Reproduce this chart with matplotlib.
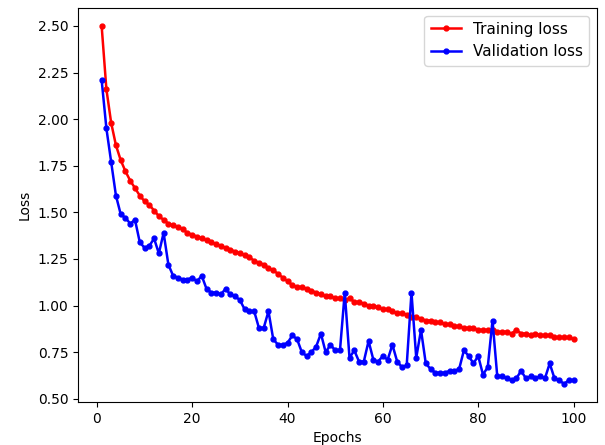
import matplotlib.pyplot as plt

# loss values per epoch
epochs = list(range(1, 101))

train_loss = [
    2.50, 2.16, 1.98, 1.86, 1.78, 1.72, 1.67, 1.63, 1.59, 1.56,
    1.54, 1.51, 1.48, 1.46, 1.44, 1.43, 1.42, 1.41, 1.39, 1.38,
    1.37, 1.36, 1.35, 1.34, 1.33, 1.32, 1.31, 1.30, 1.29, 1.28,
    1.27, 1.26, 1.24, 1.23, 1.22, 1.20, 1.19, 1.17, 1.15, 1.13,
    1.11, 1.10, 1.10, 1.09, 1.08, 1.07, 1.06, 1.05, 1.05, 1.04,
    1.04, 1.03, 1.04, 1.02, 1.02, 1.01, 1.00, 1.00, 0.99, 0.98,
    0.98, 0.97, 0.96, 0.96, 0.95, 0.94, 0.94, 0.93, 0.92, 0.92,
    0.91, 0.91, 0.90, 0.90, 0.89, 0.89, 0.88, 0.88, 0.88, 0.87,
    0.87, 0.87, 0.87, 0.86, 0.86, 0.86, 0.85, 0.87, 0.85, 0.85,
    0.84, 0.85, 0.84, 0.84, 0.84, 0.83, 0.83, 0.83, 0.83, 0.82,
]

val_loss = [
    2.21, 1.95, 1.77, 1.59, 1.49, 1.47, 1.44, 1.46, 1.34, 1.31,
    1.32, 1.36, 1.28, 1.39, 1.22, 1.16, 1.15, 1.14, 1.14, 1.15,
    1.13, 1.16, 1.09, 1.07, 1.07, 1.06, 1.09, 1.06, 1.05, 1.03,
    0.98, 0.97, 0.97, 0.88, 0.88, 0.97, 0.82, 0.79, 0.79, 0.80,
    0.84, 0.82, 0.75, 0.73, 0.75, 0.78, 0.85, 0.75, 0.79, 0.76,
    0.76, 1.07, 0.72, 0.76, 0.70, 0.70, 0.81, 0.71, 0.70, 0.73,
    0.71, 0.79, 0.70, 0.67, 0.68, 1.07, 0.72, 0.87, 0.69, 0.66,
    0.64, 0.64, 0.64, 0.65, 0.65, 0.66, 0.76, 0.73, 0.69, 0.73,
    0.63, 0.67, 0.92, 0.62, 0.62, 0.61, 0.60, 0.61, 0.65, 0.61,
    0.62, 0.61, 0.62, 0.61, 0.69, 0.61, 0.60, 0.58, 0.60, 0.60,
]

fig = plt.figure(figsize=(6.05, 4.45), dpi=100)
plt.subplots_adjust(left=0.129, right=0.987, top=0.982, bottom=0.097)

plt.plot(epochs, train_loss, 'r.-', linewidth=1.8, markersize=7, label='Training loss')
plt.plot(epochs, val_loss, 'b.-', linewidth=1.8, markersize=7, label='Validation loss')
plt.xlabel('Epochs')
plt.ylabel('Loss')
plt.legend(fontsize=11)

plt.savefig('out.png', dpi=100)
